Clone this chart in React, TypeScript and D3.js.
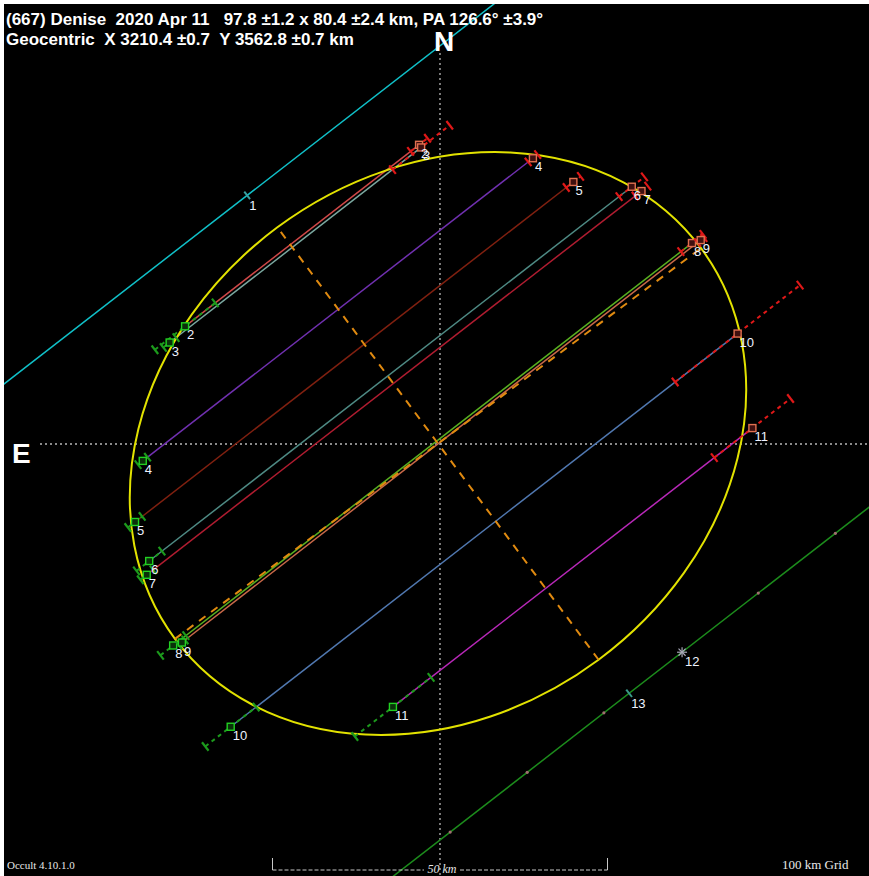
import React from 'react';
import * as d3 from 'd3';

const W = 869;
const H = 876;
const PX_PER_KM = 6.7;
const ORIGIN_PX = [440, 444];

const titleLine1 = '(667) Denise  2020 Apr 11   97.8 ±1.2 x 80.4 ±2.4 km, PA 126.6° ±3.9°';
const titleLine2 = 'Geocentric  X 3210.4 ±0.7  Y 3562.8 ±0.7 km';
const versionText = 'Occult 4.10.1.0';
const gridText = '100 km Grid';
const scaleText = '50 km';
const scaleBarKm = 50;

// fitted ellipse
const ellipseMajorKm = 97.8;
const ellipseMinorKm = 80.4;
const ellipsePA = 126.6;
const ellipseCenterKm = [-0.3, 0.07];

// track direction (deg from +x, counter-clockwise)
const trackAngleDeg = 37.8;

// positive chords
const chordLabels = ['2', '3', '4', '5', '6', '7', '8', '9', '10', '11'];
const chordOffsetKm = [37.2, 36.7, 25.2, 18.7, 12.8, 11.4, 0.65, 0.2, -14.2, -26.7];
const chordStartKm = [-19.3, -22.6, -36.6, -43.1, -45.0, -46.55, -49.9, -48.6, -50.55, -29.6];
const chordEndKm = [24.9, 24.9, 37.1, 39.7, 46.15, 46.9, 48.1, 49.4, 45.2, 38.3];
const chordStartErrKm = [5.7, 1.2, 0.9, 1.35, 2.4, 1.2, 2.4, 0.6, 4.8, 7.2];
const chordEndErrKm = [1.6, 5.4, 0.9, 1.35, 2.4, 1.2, 2.1, 0.6, 11.8, 7.2];
const chordColors = ['#d04848', '#7aa8a0', '#7030b0', '#802010', '#4e8a84', '#b01c30', '#58b020', '#c86848', '#5078b0', '#b828b8'];

// miss chords
const missLabels = ['1', '13'];
const missOffsetKm = [46.96, -46.7];
const missMarkKm = [0, -0.5];
const missColors = ['#10c0c8', '#1c8c1c'];
const missDotsKm = [[], [-34.3, -19.75, -5.27, 23.9, 38.46]];

// star-marked observation on chord 13 line
const starLabel = '12';
const starOffsetKm = -46.7;
const starAlongKm = 9.5;

const xScale = d3.scaleLinear().domain([-60, 60]).range([ORIGIN_PX[0] - 60 * PX_PER_KM, ORIGIN_PX[0] + 60 * PX_PER_KM]);
const yScale = d3.scaleLinear().domain([-60, 60]).range([ORIGIN_PX[1] + 60 * PX_PER_KM, ORIGIN_PX[1] - 60 * PX_PER_KM]);

const beta = (trackAngleDeg * Math.PI) / 180;
const ux = Math.cos(beta), uy = Math.sin(beta);
const nx = -Math.sin(beta), ny = Math.cos(beta);

function pt(along: number, perp: number): [number, number] {
  return [xScale(along * ux + perp * nx), yScale(along * uy + perp * ny)];
}

const line = d3.line<[number, number]>().x((d) => d[0]).y((d) => d[1]);

function seg(a0: number, a1: number, perp: number) {
  return line([pt(a0, perp), pt(a1, perp)]) || '';
}
function tick(along: number, perp: number, half = 0.8) {
  return line([pt(along, perp - half), pt(along, perp + half)]) || '';
}

export default function App() {
  const cx = xScale(ellipseCenterKm[0]);
  const cy = yScale(ellipseCenterKm[1]);
  const paRad = (ellipsePA * Math.PI) / 180;
  const majDir: [number, number] = [-Math.sin(paRad), Math.cos(paRad)];
  const minDir: [number, number] = [-majDir[1], majDir[0]];
  const rot = (-Math.atan2(majDir[1], majDir[0]) * 180) / Math.PI;
  const a = ellipseMajorKm / 2;
  const b = ellipseMinorKm / 2;
  const kx = (v: number) => xScale(v);
  const ky = (v: number) => yScale(v);
  const majorAxis = line([
    [kx(ellipseCenterKm[0] + a * majDir[0]), ky(ellipseCenterKm[1] + a * majDir[1])],
    [kx(ellipseCenterKm[0] - a * majDir[0]), ky(ellipseCenterKm[1] - a * majDir[1])],
  ]) || '';
  const minorAxis = line([
    [kx(ellipseCenterKm[0] + b * minDir[0]), ky(ellipseCenterKm[1] + b * minDir[1])],
    [kx(ellipseCenterKm[0] - b * minDir[0]), ky(ellipseCenterKm[1] - b * minDir[1])],
  ]) || '';

  const sbL = xScale(-scaleBarKm / 2);
  const sbR = xScale(scaleBarKm / 2);
  const sbY = 870;

  const labelFont = { fontFamily: '"Liberation Sans", Arial, sans-serif', fontSize: 13, fill: '#eef3ff' };

  return (
    <svg width={W} height={H} style={{ position: 'absolute', left: 0, top: 0, display: 'block' }}>
      <defs>
        <clipPath id="plotClip">
          <rect x={4} y={4} width={W - 4} height={H - 4} />
        </clipPath>
      </defs>
      <rect x={0} y={0} width={W} height={H} fill="#ffffff" />
      <rect x={4} y={4} width={W - 4} height={H - 4} fill="#000000" />
      <g clipPath="url(#plotClip)">
        {/* axes */}
        <line x1={ORIGIN_PX[0]} x2={ORIGIN_PX[0]} y1={53} y2={H} stroke="#b8b8b8" strokeWidth={1.3} strokeDasharray="2,3" />
        <line x1={40} x2={W} y1={ORIGIN_PX[1]} y2={ORIGIN_PX[1]} stroke="#b8b8b8" strokeWidth={1.3} strokeDasharray="2,3" />

        {/* miss chords */}
        {missLabels.map((lab, i) => (
          <g key={'m' + lab}>
            <path d={seg(-120, 120, missOffsetKm[i])} stroke={missColors[i]} strokeWidth={1.5} fill="none" />
            <path d={tick(missMarkKm[i], missOffsetKm[i], 0.7)} stroke={i === 0 ? '#3aa0a0' : '#3a9a8a'} strokeWidth={2} />
            {missDotsKm[i].map((d, j) => {
              const p = pt(d, missOffsetKm[i]);
              return <circle key={j} cx={p[0]} cy={p[1]} r={1.6} fill="#a07070" />;
            })}
          </g>
        ))}

        {/* positive chords */}
        {chordLabels.map((lab, i) => (
          <path key={'c' + lab} d={seg(chordStartKm[i], chordEndKm[i], chordOffsetKm[i])} stroke={chordColors[i]} strokeWidth={1.5} fill="none" />
        ))}

        {/* ellipse */}
        <ellipse cx={cx} cy={cy} rx={a * PX_PER_KM} ry={b * PX_PER_KM} transform={`rotate(${rot}, ${cx}, ${cy})`} fill="none" stroke="#e2e200" strokeWidth={2} />
        <path d={majorAxis} stroke="#e08a10" strokeWidth={2} strokeDasharray="8,7" fill="none" />
        <path d={minorAxis} stroke="#e08a10" strokeWidth={2} strokeDasharray="8,7" fill="none" />

        {/* error bars and markers */}
        {chordLabels.map((lab, i) => {
          const off = chordOffsetKm[i];
          const s = chordStartKm[i];
          const e = chordEndKm[i];
          const se = chordStartErrKm[i];
          const ee = chordEndErrKm[i];
          const ps = pt(s, off);
          const pe = pt(e, off);
          return (
            <g key={'e' + lab}>
              <path d={seg(s - se, s + se, off)} stroke="#1c9a1c" strokeWidth={2} strokeDasharray="4,4" fill="none" />
              <path d={tick(s - se, off)} stroke="#1c9a1c" strokeWidth={2.2} />
              <path d={tick(s + se, off)} stroke="#1c9a1c" strokeWidth={2.2} />
              <path d={seg(e - ee, e + ee, off)} stroke="#e01818" strokeWidth={2} strokeDasharray="4,4" fill="none" />
              <path d={tick(e - ee, off)} stroke="#e01818" strokeWidth={2.2} />
              <path d={tick(e + ee, off)} stroke="#e01818" strokeWidth={2.2} />
              <rect x={ps[0] - 3.5} y={ps[1] - 3.5} width={7} height={7} fill="#0a300a" stroke="#22d022" strokeWidth={1.4} />
              <rect x={pe[0] - 3.5} y={pe[1] - 3.5} width={7} height={7} fill="#401010" stroke="#e07050" strokeWidth={1.4} />
            </g>
          );
        })}

        {/* star observation */}
        {(() => {
          const p = pt(starAlongKm, starOffsetKm);
          const r = 5;
          const arms = d3.range(4).map((k) => (k * Math.PI) / 4);
          return (
            <g>
              {arms.map((ang, k) => (
                <line key={k} x1={p[0] - r * Math.cos(ang)} y1={p[1] - r * Math.sin(ang)} x2={p[0] + r * Math.cos(ang)} y2={p[1] + r * Math.sin(ang)} stroke="#a8a8b8" strokeWidth={1.2} />
              ))}
              <text x={p[0] + 3} y={p[1] + 14} {...labelFont}>{starLabel}</text>
            </g>
          );
        })()}

        {/* labels */}
        {chordLabels.map((lab, i) => {
          const ps = pt(chordStartKm[i], chordOffsetKm[i]);
          const pe = pt(chordEndKm[i], chordOffsetKm[i]);
          return (
            <g key={'l' + lab}>
              <text x={ps[0] + 2} y={ps[1] + 13} {...labelFont}>{lab}</text>
              <text x={pe[0] + 2} y={pe[1] + 13} {...labelFont}>{lab}</text>
            </g>
          );
        })}
        {missLabels.map((lab, i) => {
          const p = pt(missMarkKm[i], missOffsetKm[i]);
          return (
            <text key={'ml' + lab} x={p[0] + 2} y={p[1] + 15} {...labelFont}>{lab}</text>
          );
        })}

        {/* scale bar */}
        <path d={`M${sbL},${sbY - 12}V${sbY}`} stroke="#c8c8c8" strokeWidth={1} />
        <path d={`M${sbR},${sbY - 12}V${sbY}`} stroke="#c8c8c8" strokeWidth={1} />
        <line x1={sbL} x2={424} y1={sbY} y2={sbY} stroke="#c8c8c8" strokeWidth={1} strokeDasharray="4,2" />
        <line x1={460} x2={sbR} y1={sbY} y2={sbY} stroke="#c8c8c8" strokeWidth={1} strokeDasharray="4,2" />
        <text x={442} y={873} textAnchor="middle" fontFamily='"Liberation Serif", "Times New Roman", serif' fontStyle="italic" fontSize={12} fill="#e8e8e8">{scaleText}</text>

        <text x={7} y={869} fontFamily='"Liberation Serif", "Times New Roman", serif' fontSize={11} fill="#e8e8e8">{versionText}</text>
        <text x={782} y={869} fontFamily='"Liberation Serif", "Times New Roman", serif' fontSize={13} fill="#e8e8e8">{gridText}</text>

        {/* compass letters */}
        <text x={444} y={51} textAnchor="middle" fontFamily='"Liberation Sans", Arial, sans-serif' fontWeight="bold" fontSize={28} fill="#ffffff">N</text>
        <text x={12} y={463} fontFamily='"Liberation Sans", Arial, sans-serif' fontWeight="bold" fontSize={28} fill="#ffffff">E</text>

        {/* title */}
        <text x={6} y={25} fontFamily='"Liberation Sans", Arial, sans-serif' fontWeight="bold" fontSize={17} fill="#ffffff" style={{ whiteSpace: 'pre' }}>{titleLine1}</text>
        <text x={6} y={45} fontFamily='"Liberation Sans", Arial, sans-serif' fontWeight="bold" fontSize={17} fill="#ffffff" style={{ whiteSpace: 'pre' }}>{titleLine2}</text>
      </g>
    </svg>
  );
}
